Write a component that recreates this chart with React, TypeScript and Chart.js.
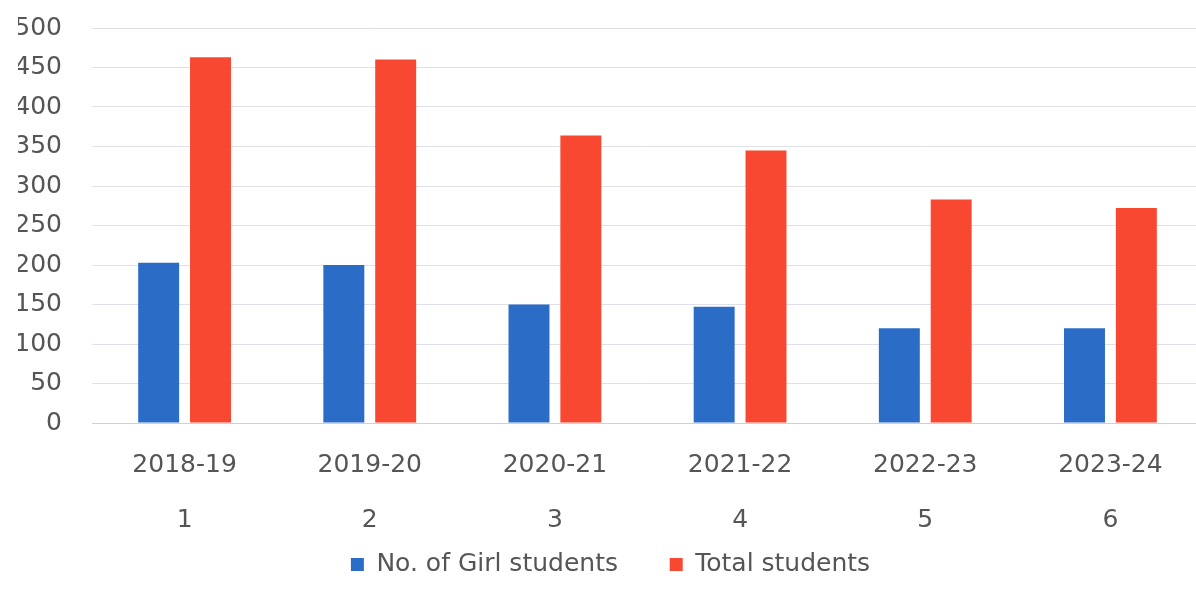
import React, { useEffect, useRef } from "react";
import { Chart, registerables } from "chart.js";

Chart.register(...registerables);

const years = ["2018-19", "2019-20", "2020-21", "2021-22", "2022-23", "2023-24"];
const indices = ["1", "2", "3", "4", "5", "6"];
const girlStudents = [203, 200, 150, 147, 120, 120];
const totalStudents = [463, 460, 364, 345, 283, 272];
const yTicks = [0, 50, 100, 150, 200, 250, 300, 350, 400, 450, 500];

const FONT = '"DejaVu Sans", Verdana, sans-serif';
const TEXT = "#555555";

export default function App() {
  const ref = useRef<HTMLCanvasElement | null>(null);

  useEffect(() => {
    if (!ref.current) return;
    const chart = new Chart(ref.current, {
      type: "bar",
      data: {
        labels: years.map((y, i) => [y, indices[i]]),
        datasets: [
          {
            label: "No. of Girl students",
            data: girlStudents,
            backgroundColor: "#2b6cc6",
            categoryPercentage: 0.56,
            barPercentage: 0.79,
          },
          {
            label: "Total students",
            data: totalStudents,
            backgroundColor: "#f94832",
            categoryPercentage: 0.56,
            barPercentage: 0.79,
          },
        ],
      },
      options: {
        animation: false,
        responsive: true,
        maintainAspectRatio: false,
        layout: { padding: { left: 18, top: 28, right: 7, bottom: 22 } },
        plugins: {
          legend: {
            position: "bottom",
            labels: {
              boxWidth: 13,
              boxHeight: 13,
              padding: 12,
              color: TEXT,
              font: { family: FONT, size: 25 },
              generateLabels: (c: any) =>
                Chart.defaults.plugins.legend.labels
                  .generateLabels(c)
                  .map((l: any, i: number) =>
                    i === 0 ? { ...l, text: l.text + "     " } : l
                  ),
            },
          },
          tooltip: { enabled: false },
        },
        scales: {
          x: {
            afterFit: (axis: any) => {
              axis.height = 117;
            },
            grid: { display: false, drawTicks: false },
            border: { display: true, color: "#cfcfd6" },
            ticks: {
              color: TEXT,
              padding: 15,
              maxRotation: 0,
              autoSkip: false,
              font: { family: FONT, size: 25, lineHeight: 2.2 },
            },
          },
          y: {
            min: 0,
            max: 500,
            afterBuildTicks: (axis: any) => {
              axis.ticks = yTicks.map((v) => ({ value: v }));
            },
            afterFit: (axis: any) => {
              axis.width = 74;
              axis.paddingTop = 0;
              axis.paddingBottom = 0;
            },
            grid: { color: "#e0e0ec", drawTicks: false },
            border: { display: false },
            ticks: {
              color: TEXT,
              padding: 30,
              font: { family: FONT, size: 25 },
            },
          },
        },
      },
    });
    return () => chart.destroy();
  }, []);

  return (
    <div
      style={{
        position: "fixed",
        left: 0,
        top: 0,
        width: 1196,
        height: 609,
        overflow: "hidden",
        background: "#fff",
      }}
    >
      <div style={{ position: "relative", width: 1210, height: 609 }}>
        <canvas ref={ref} />
      </div>
    </div>
  );
}
